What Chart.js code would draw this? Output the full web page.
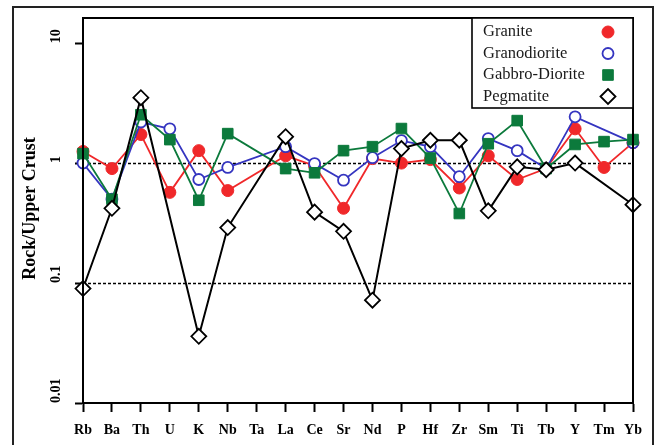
<!DOCTYPE html>
<html>
<head>
<meta charset="utf-8">
<script src="https://cdn.jsdelivr.net/npm/chart.js@4"></script>
<style>
  html, body { margin: 0; padding: 0; background: #fff; }
  #wrap { width: 662px; height: 445px; position: relative; }
</style>
</head>
<body>
<div id="wrap"><canvas id="c"></canvas></div>
<script>
// Trace elements, normalised to upper crust
const elements = ['Rb','Ba','Th','U','K','Nb','Ta','La','Ce','Sr','Nd','P','Hf','Zr','Sm','Ti','Tb','Y','Tm','Yb'];
const granite       = [1.25, 0.90, 1.73, 0.57, 1.27, 0.59, null, 1.15, 0.95, 0.42, 1.09, 1.00, 1.07, 0.62, 1.15, 0.73, 0.90, 1.93, 0.92, 1.48];
const granodiorite  = [1.00, 0.50, 2.20, 1.93, 0.73, 0.92, null, 1.37, 0.99, 0.72, 1.11, 1.54, 1.37, 0.77, 1.60, 1.27, 0.90, 2.43, null, 1.48];
const gabbroDiorite = [1.20, 0.50, 2.53, 1.57, 0.49, 1.76, null, 0.90, 0.83, 1.27, 1.37, 1.94, 1.10, 0.38, 1.45, 2.26, 0.90, 1.43, 1.51, 1.57];
const pegmatite     = [0.09, 0.42, 3.51, null, 0.036, 0.29, null, 1.66, 0.39, 0.27, 0.072, 1.32, 1.55, 1.55, 0.40, 0.93, 0.88, 1.00, null, 0.45];
const yTickValues = [0.01, 0.1, 1, 10];
const referenceLines = [1, 0.1];
const yTitle = 'Rock/Upper Crust';

const SERIF = '"Liberation Serif", "DejaVu Serif", serif';
const RED = '#f0282a', BLUE = '#3535c0', GREEN = '#0c7a3c', BLACK = '#000000';

const series = [
  { label: 'Granite',        data: granite,       borderColor: RED,   backgroundColor: RED,       pointStyle: 'circle',  pointRadius: 6,   pointBorderWidth: 1,   borderWidth: 1.8, order: 3 },
  { label: 'Granodiorite',   data: granodiorite,  borderColor: BLUE,  backgroundColor: '#ffffff', pointStyle: 'circle',  pointRadius: 5.5, pointBorderWidth: 1.8, borderWidth: 1.8, order: 2 },
  { label: 'Gabbro-Diorite', data: gabbroDiorite, borderColor: GREEN, backgroundColor: GREEN,     pointStyle: 'rect',    pointRadius: 7.5, pointBorderWidth: 1,   borderWidth: 1.8, order: 1 },
  { label: 'Pegmatite',      data: pegmatite,     borderColor: BLACK, backgroundColor: '#ffffff', pointStyle: 'rectRot', pointRadius: 7.5, pointBorderWidth: 1.8, borderWidth: 2,   order: 0 }
];

// symbol shapes shared by the legend box
function drawSymbol(ctx, ds, x, y) {
  const r = ds.pointRadius;
  ctx.fillStyle = ds.backgroundColor;
  ctx.strokeStyle = ds.borderColor;
  ctx.lineWidth = ds.pointBorderWidth;
  ctx.beginPath();
  if (ds.pointStyle === 'circle') {
    ctx.arc(x, y, r, 0, Math.PI * 2);
  } else if (ds.pointStyle === 'rect') {
    const s = r * Math.SQRT1_2;
    ctx.rect(x - s, y - s, 2 * s, 2 * s);
  } else {
    ctx.moveTo(x - r, y); ctx.lineTo(x, y - r); ctx.lineTo(x + r, y); ctx.lineTo(x, y + r); ctx.closePath();
  }
  ctx.fill();
  ctx.stroke();
}

// frame, reference lines, rotated y labels, axis title and legend box
const decorations = {
  id: 'decorations',
  beforeDraw(chart) {
    const ctx = chart.ctx;
    ctx.save();
    ctx.fillStyle = '#ffffff';
    ctx.fillRect(0, 0, chart.width, chart.height);
    ctx.strokeStyle = '#222';
    ctx.lineWidth = 2;
    ctx.strokeRect(13, 7, 640, 460);
    ctx.restore();
  },
  beforeDatasetsDraw(chart) {
    const ctx = chart.ctx, a = chart.chartArea, y = chart.scales.y;
    ctx.save();
    ctx.strokeStyle = '#000';
    ctx.lineWidth = 1.6;
    ctx.setLineDash([3, 2]);
    referenceLines.forEach(v => {
      const py = Math.round(y.getPixelForValue(v)) + 0.5;
      ctx.beginPath(); ctx.moveTo(a.left, py); ctx.lineTo(a.right, py); ctx.stroke();
    });
    ctx.restore();
  },
  afterDraw(chart) {
    const ctx = chart.ctx, a = chart.chartArea, y = chart.scales.y;
    ctx.save();
    // plot box
    ctx.strokeStyle = '#000';
    ctx.lineWidth = 2;
    ctx.strokeRect(a.left, a.top, a.right - a.left, a.bottom - a.top);
    // y tick labels, rotated
    ctx.fillStyle = '#000';
    ctx.font = 'bold 14px ' + SERIF;
    ctx.textAlign = 'left';
    ctx.textBaseline = 'middle';
    yTickValues.forEach(v => {
      const py = y.getPixelForValue(v);
      ctx.save(); ctx.translate(56, py); ctx.rotate(-Math.PI / 2);
      ctx.fillText(String(v), 0, 0);
      ctx.restore();
    });
    // y title
    ctx.font = 'bold 18px ' + SERIF;
    ctx.textAlign = 'center';
    ctx.save(); ctx.translate(30, (a.top + a.bottom) / 2 - 2); ctx.rotate(-Math.PI / 2);
    ctx.fillText(yTitle, 0, 0);
    ctx.restore();
    // legend
    const lx = 472, ly = a.top, lw = a.right - lx, lh = 90;
    ctx.fillStyle = '#fff';
    ctx.fillRect(lx, ly, lw, lh);
    ctx.strokeStyle = '#000';
    ctx.lineWidth = 1.6;
    ctx.strokeRect(lx, ly, lw, lh);
    ctx.font = '16.5px ' + SERIF;
    ctx.textAlign = 'left';
    chart.data.datasets.forEach((ds, i) => {
      const ry = ly + 14 + i * 21.5;
      ctx.fillStyle = '#1a1a1a';
      ctx.fillText(ds.label, lx + 11, ry);
      drawSymbol(ctx, ds, lx + 136, ry);
    });
    ctx.restore();
  }
};

new Chart(document.getElementById('c'), {
  type: 'line',
  data: {
    labels: elements,
    datasets: series.map(s => Object.assign({ spanGaps: true, tension: 0, fill: false, pointBackgroundColor: s.backgroundColor, pointBorderColor: s.borderColor, pointHoverRadius: s.pointRadius }, s))
  },
  options: {
    responsive: true,
    maintainAspectRatio: false,
    animation: false,
    devicePixelRatio: 1,
    layout: { padding: { left: 0, right: 29, top: 18, bottom: 0 } },
    plugins: { legend: { display: false }, tooltip: { enabled: false } },
    scales: {
      x: {
        type: 'category',
        offset: false,
        grid: { offset: false, drawOnChartArea: false, drawTicks: true, tickLength: 9, tickColor: '#000', tickWidth: 2 },
        border: { display: true, color: '#000', width: 2 },
        ticks: { autoSkip: false, maxRotation: 0, minRotation: 0, color: '#000', padding: 10, font: { family: SERIF, size: 14, weight: 'bold' } },
        afterFit(scale) { scale.height = 42; }
      },
      y: {
        type: 'logarithmic',
        min: 0.01,
        max: 16.2,
        afterBuildTicks(scale) { scale.ticks = yTickValues.map(v => ({ value: v })); },
        grid: { drawOnChartArea: false, drawTicks: true, tickLength: 8, tickColor: '#000', tickWidth: 2 },
        border: { display: true, color: '#000', width: 2 },
        ticks: { display: false },
        afterFit(scale) { scale.width = 83; }
      }
    }
  },
  plugins: [decorations]
});
</script>
</body>
</html>
